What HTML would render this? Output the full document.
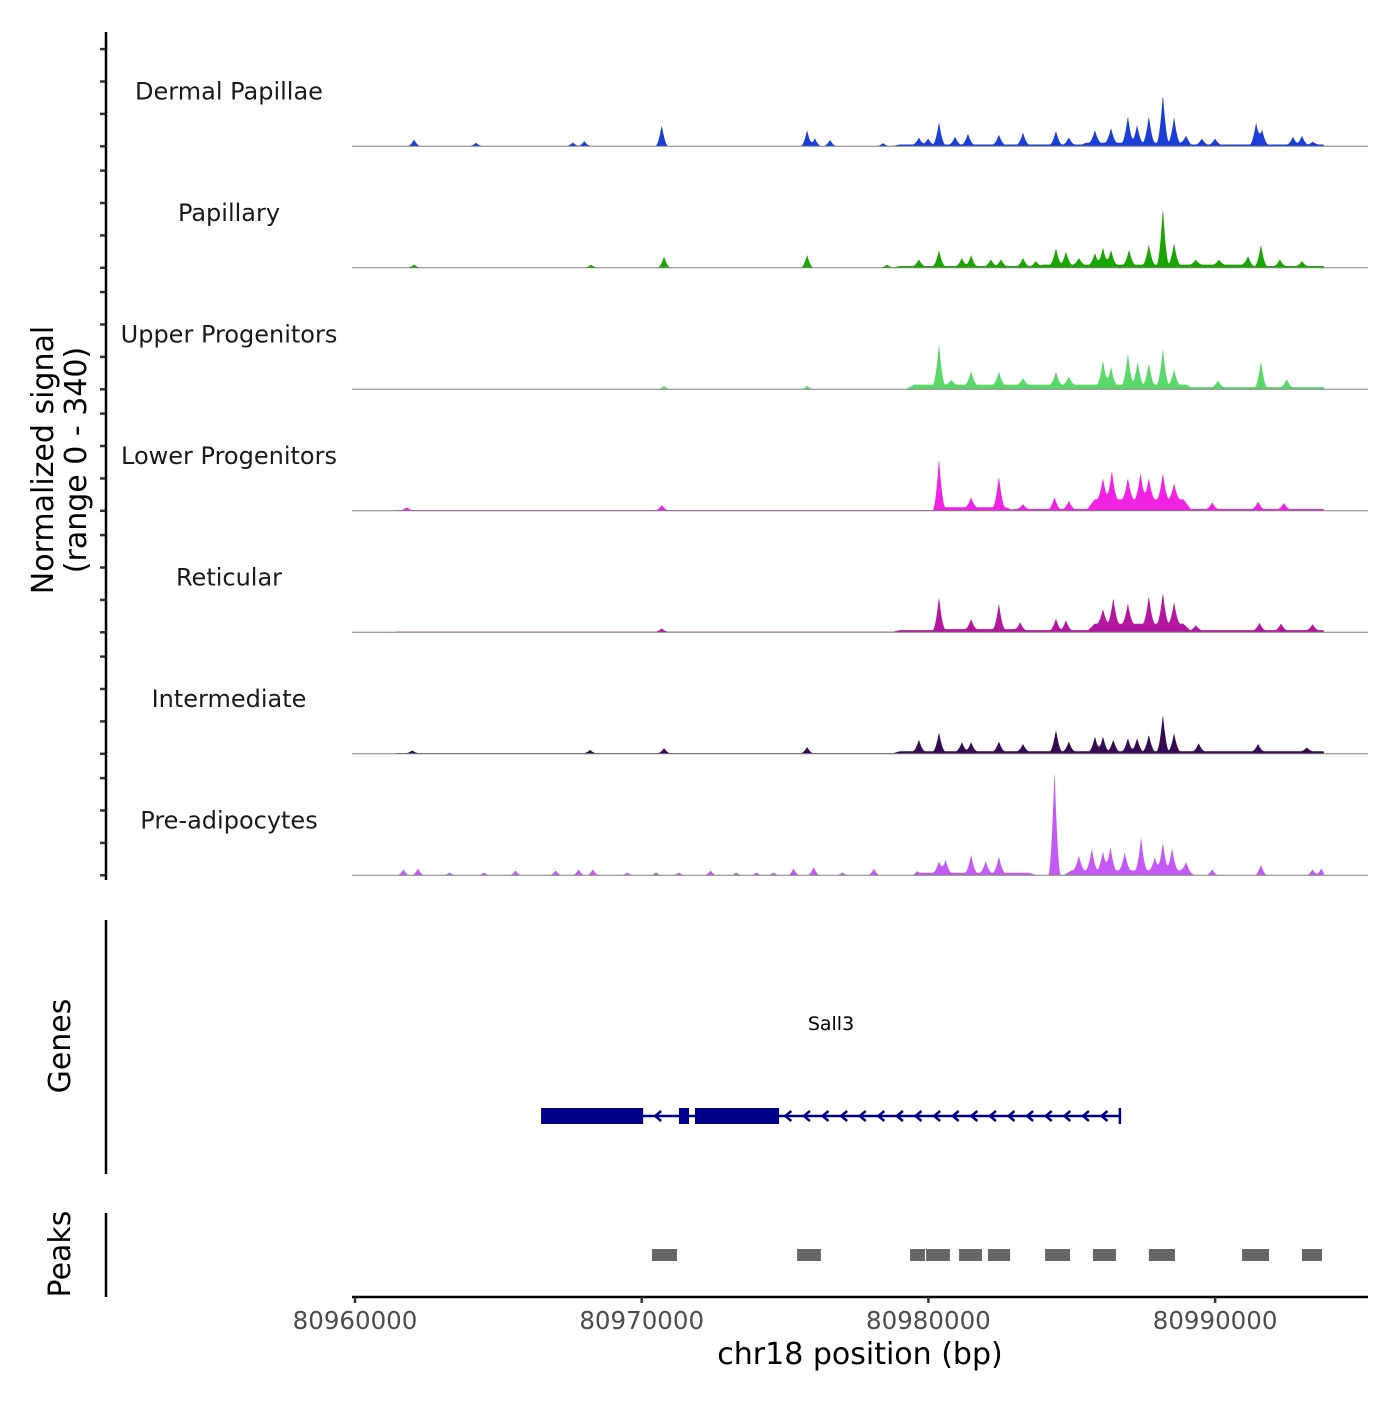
<!DOCTYPE html>
<html><head><meta charset="utf-8"><style>
body{margin:0;background:#fff}
svg text{font-family:"DejaVu Sans","Liberation Sans",sans-serif}
</style></head><body>
<svg id="chart" width="1400" height="1400" xmlns="http://www.w3.org/2000/svg">
<g id="tracks"></g>
<g id="left"></g>
<g id="genes"></g>
<g id="peaks"></g>
<g id="xaxis"></g>
</svg>
<script>
// ---- data ----
const trackNames = ["Dermal Papillae","Papillary","Upper Progenitors","Lower Progenitors","Reticular","Intermediate","Pre-adipocytes"];
const trackColors = ["#1b3ed6","#1aa600","#5ad96a","#f022e3","#b4179f","#350a52","#c35af6"];
// peaks: [kb offset from 80960000, signal value]
const peaksDP = [[2.06,18],[4.22,9],[8.0,14],[7.6,10],[10.7,59],[15.77,45],[16.04,22],[16.57,17],[18.42,8],[19.67,20],[19.99,17],[20.37,64],[20.93,22],[21.38,31],[22.46,28],[23.3,34],[24.45,39],[24.9,20],[25.81,36],[26.37,42],[26.96,76],[27.28,50],[27.69,76],[28.18,137],[28.57,73],[28.99,20],[29.54,17],[30.0,17],[31.43,62],[31.64,42],[32.72,22],[33.03,25],[33.41,8]];
const peaksPap = [[2.06,8],[8.23,8],[10.78,31],[15.77,35],[18.56,8],[19.67,19],[20.37,45],[21.17,23],[21.49,31],[22.18,19],[22.53,19],[23.3,23],[23.75,14],[24.45,47],[24.8,37],[25.25,19],[25.81,33],[26.09,49],[26.37,42],[27.0,42],[27.69,58],[28.18,161],[28.57,61],[29.33,14],[30.14,14],[31.15,28],[31.6,61],[32.26,19],[33.03,14]];
const peaksUp = [[10.78,8],[15.77,9],[20.37,117],[20.8,14],[21.49,39],[22.46,37],[23.3,19],[24.45,37],[24.9,23],[26.09,70],[26.37,51],[26.96,89],[27.3,65],[27.69,61],[28.18,103],[28.57,42],[30.1,19],[31.6,75],[32.5,23]];
const peaksLow = [[1.81,8],[10.7,14],[20.37,142],[21.49,28],[22.46,89],[23.3,14],[24.4,33],[24.9,23],[26.09,61],[26.4,82],[26.96,61],[27.4,75],[27.69,61],[28.18,75],[28.57,45],[29.9,19],[31.5,21],[32.4,17]];
const peaksRet = [[10.7,9],[20.37,95],[21.49,28],[22.46,73],[23.2,23],[24.45,33],[24.8,28],[26.09,42],[26.45,73],[26.96,58],[27.69,79],[28.18,89],[28.57,61],[29.33,14],[31.55,21],[32.3,19],[33.4,17]];
const peaksInt = [[2.0,8],[8.2,9],[10.78,14],[15.77,17],[19.67,33],[20.37,54],[21.17,26],[21.49,26],[22.46,28],[23.3,21],[24.45,61],[24.9,28],[25.81,42],[26.09,42],[26.45,33],[26.96,37],[27.28,37],[27.69,47],[28.18,105],[28.57,51],[29.43,23],[31.5,21],[33.2,11]];
const peaksPre = [[1.69,17],[2.2,19],[3.3,8],[4.5,8],[5.6,14],[7.0,14],[7.8,17],[8.3,17],[9.5,8],[10.5,8],[11.3,8],[12.4,14],[13.3,8],[14.0,8],[14.6,8],[15.3,19],[16.0,23],[17.0,8],[18.1,19],[19.6,9],[20.37,33],[20.6,37],[21.49,51],[22.0,33],[22.46,47],[24.4,297],[25.25,42],[25.7,61],[26.09,54],[26.35,67],[26.85,51],[27.42,93],[27.9,37],[28.18,79],[28.5,63],[28.99,23],[29.9,17],[31.6,30],[33.4,17],[33.7,19]];
// background levels: [startKb, endKb, value]
const bgDP = [[1.5,19,1],[19,34,5],[25.5,29,10]];
const bgPap = [[1.5,19,1],[19,34,5],[24,31,9]];
const bgUp = [[1.5,19.5,1],[19.5,29,13],[29,34,6]];
const bgLow = [[1.5,20.3,2],[20.5,22.7,10],[23,34,5],[25.8,28.9,32]];
const bgRet = [[1.5,19,2],[19,20.3,6],[20.5,23,9],[23,34,6],[25.8,28.9,24]];
const bgInt = [[1.5,19,2],[19,34,7]];
const bgPre = [[19.8,23.5,7],[25,29,14]];
const trackPeaks = [peaksDP,peaksPap,peaksUp,peaksLow,peaksRet,peaksInt,peaksPre];
const trackBg = [bgDP,bgPap,bgUp,bgLow,bgRet,bgInt,bgPre];
const peakRegions = [[10.36,11.23],[15.42,16.25],[19.36,19.88],[19.92,20.75],[21.07,21.87],[22.08,22.85],[24.07,24.94],[25.74,26.54],[27.69,28.6],[30.94,31.88],[33.03,33.73]];
const geneName = "Sall3";
const geneStartKb = 6.49, geneEndKb = 26.68;
const exons = [[6.49,10.05],[11.30,11.65],[11.86,14.79]];
const xTicks = [80960000,80970000,80980000,80990000];
const origin = 80960000;

// ---- scales ----
const NS="http://www.w3.org/2000/svg";
const pxPerKb = 28.67, x0 = 355;
function xKb(kb){return x0 + kb*pxPerKb;}
function xBp(bp){return xKb((bp-origin)/1000);}
const yMax = 340, trackH = 121.5, firstBase = 146.3;
function yVal(v,base){return base - v/yMax*121;}
function mk(tag,attrs,parent){const e=document.createElementNS(NS,tag);for(const k in attrs)e.setAttribute(k,attrs[k]);parent.appendChild(e);return e;}

const gT=document.getElementById('tracks');
trackNames.forEach((name,i)=>{
  const base = firstBase + i*trackH;
  const pk = trackPeaks[i], bg = trackBg[i];
  const w = 0.22, ramp = 0.3;
  let d = "M"+xKb(1.4)+","+base;
  for(let px=xKb(1.4); px<=xKb(33.8); px+=0.5){
    const kb=(px-x0)/pxPerKb;
    let v=0;
    bg.forEach(b=>{
      let f=Math.min(1,(kb-b[0])/ramp+1,(b[1]-kb)/ramp+1);
      if(f>0) v=Math.max(v,b[2]*Math.min(1,f));
    });
    pk.forEach(p=>{ const t=1-Math.abs(kb-p[0])/w; if(t>0) v+=p[1]*Math.pow(t,1.8); });
    d+=" L"+px.toFixed(1)+","+yVal(v,base).toFixed(2);
  }
  d+=" L"+xKb(33.8)+","+base+" Z";
  const a=mk('path',{d:d,fill:trackColors[i],stroke:'none'},gT);
  
  
  const l=mk('line',{x1:352,x2:1368,y1:base,y2:base,stroke:'#808080','stroke-width':1},gT);
  
  
  const t=mk('text',{x:229,y:base-47,'text-anchor':'middle','font-size':24,fill:'#1a1a1a'},gT);
  t.textContent=name;
  
  
  [0,32.4,64.8,97.2].forEach(o=>{
    const tk=mk('line',{x1:100,x2:106,y1:base-o,y2:base-o,stroke:'#333','stroke-width':2.5},gT);
    
    
  });
});

// left axes
const gL=document.getElementById('left');
mk('line',{x1:106,x2:106,y1:32,y2:880,stroke:'#000','stroke-width':2.5},gL);
const yt=mk('text',{transform:'translate(53,460) rotate(-90)','text-anchor':'middle','font-size':30,fill:'#000'},gL);
yt.innerHTML='<tspan x="0" dy="0">Normalized signal</tspan><tspan x="0" dy="33">(range 0 - 340)</tspan>';


mk('line',{x1:106,x2:106,y1:920,y2:1174,stroke:'#000','stroke-width':2.5},gL);
const gt=mk('text',{transform:'translate(70,1046) rotate(-90)','text-anchor':'middle','font-size':30,fill:'#000'},gL);
gt.textContent='Genes';


mk('line',{x1:106,x2:106,y1:1213,y2:1297,stroke:'#000','stroke-width':2.5},gL);
const pt=mk('text',{transform:'translate(70,1254) rotate(-90)','text-anchor':'middle','font-size':30,fill:'#000'},gL);
pt.textContent='Peaks';



// gene
const gG=document.getElementById('genes');
const gy=1116;
mk('line',{x1:xKb(geneStartKb),x2:xKb(geneEndKb),y1:gy,y2:gy,stroke:'#00008b','stroke-width':2.5},gG);
exons.forEach(e=>{const r=mk('rect',{x:xKb(e[0]),y:gy-8,width:xKb(e[1])-xKb(e[0]),height:16,fill:'#00008b'},gG);
  
  });
for(let x=xKb(10.05)+14;x<xKb(geneEndKb)-8;x+=18.6){
  let inEx=exons.some(e=>x>xKb(e[0])-4&&x<xKb(e[1])+6);
  if(inEx)continue;
  mk('path',{d:`M${x+4},${gy-5} L${x-2},${gy} L${x+4},${gy+5}`,fill:'none',stroke:'#00008b','stroke-width':2.5},gG);
}
mk('line',{x1:xKb(geneEndKb),x2:xKb(geneEndKb),y1:gy-8,y2:gy+8,stroke:'#00008b','stroke-width':2.5},gG);
const gn=mk('text',{x:831,y:1030,'text-anchor':'middle','font-size':19,fill:'#000'},gG);
gn.textContent=geneName;



// peaks
const gP=document.getElementById('peaks');
peakRegions.forEach(p=>{const r=mk('rect',{x:xKb(p[0]),y:1249,width:xKb(p[1])-xKb(p[0]),height:12,fill:'#666666'},gP);
  
  });

// x axis
const gX=document.getElementById('xaxis');
mk('line',{x1:352,x2:1368,y1:1297,y2:1297,stroke:'#000','stroke-width':2.5},gX);
xTicks.forEach(t=>{const x=xBp(t);mk('line',{x1:x,x2:x,y1:1297,y2:1303,stroke:'#333','stroke-width':2.5},gX);
  const tx=mk('text',{x:x,y:1329,'text-anchor':'middle','font-size':24.5,fill:'#4d4d4d'},gX);tx.textContent=t;
  
  });
const xt=mk('text',{x:860,y:1364,'text-anchor':'middle','font-size':30,fill:'#000'},gX);
xt.textContent='chr18 position (bp)';


</script>
</body></html>
